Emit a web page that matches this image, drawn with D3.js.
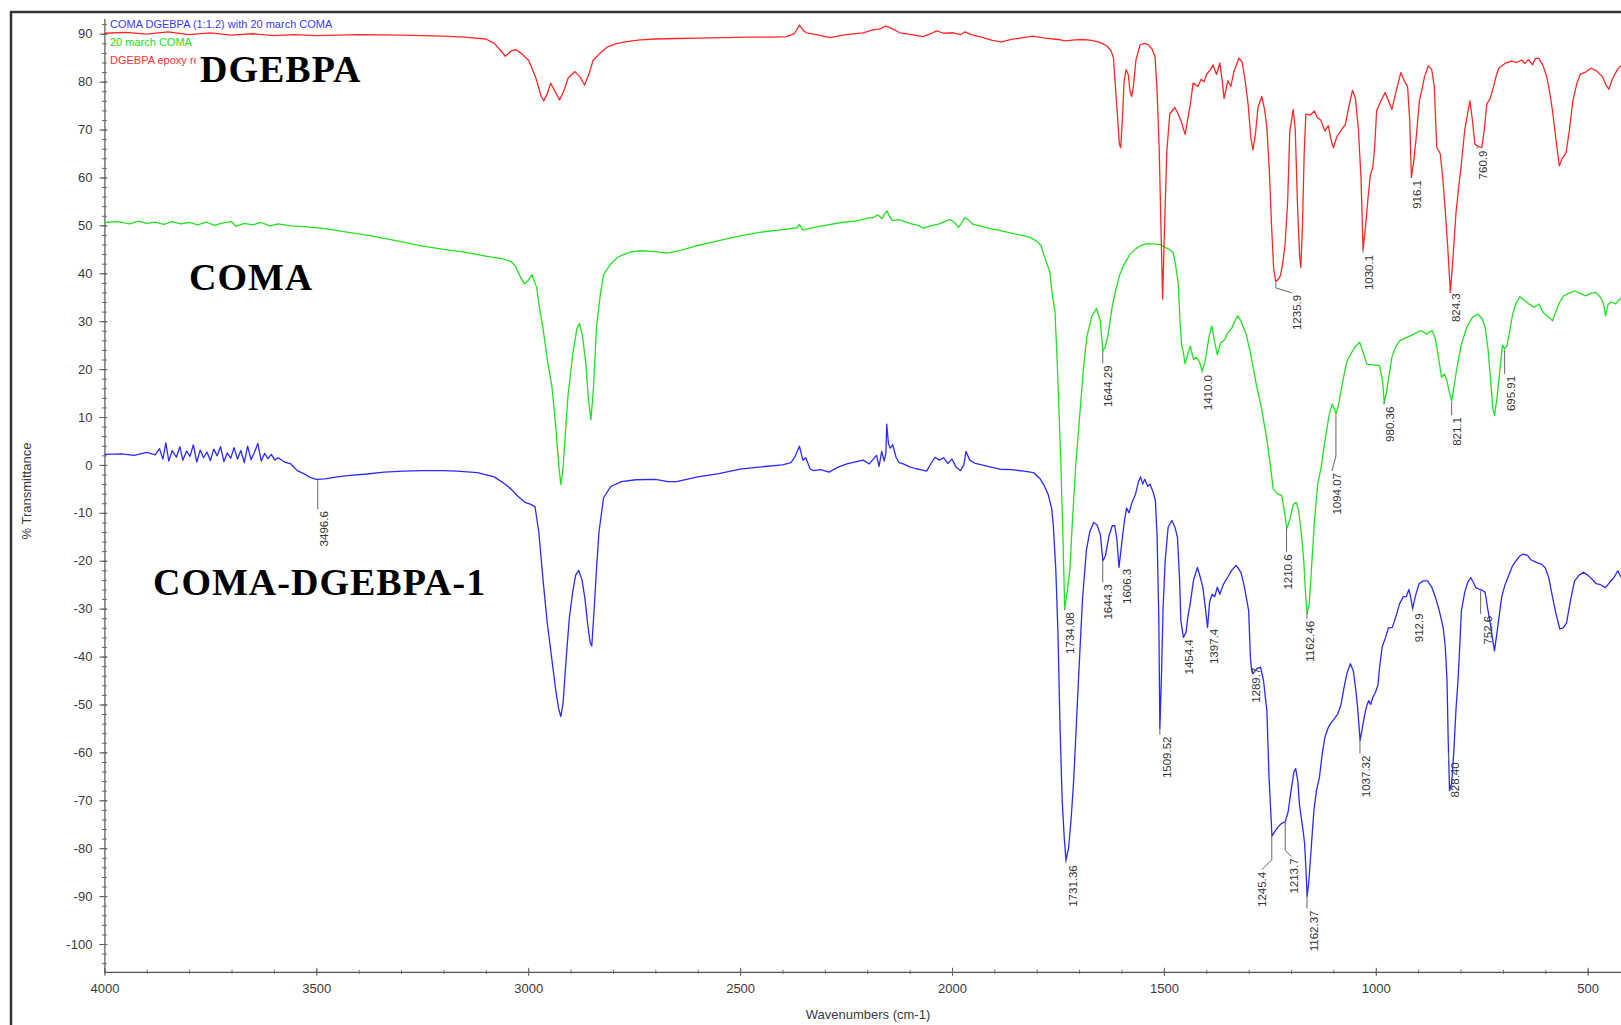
<!DOCTYPE html>
<html><head><meta charset="utf-8">
<script src="https://cdn.jsdelivr.net/npm/d3@7"></script>
<style>
html,body{margin:0;padding:0;background:#fff;overflow:hidden;}
svg{display:block;}
</style></head><body>
<svg id="chart" width="1621" height="1025"></svg>
<script>
// ---------------- DATA ----------------
const xTickValues = [4000, 3500, 3000, 2500, 2000, 1500, 1000, 500];
const yTickValues = [90, 80, 70, 60, 50, 40, 30, 20, 10, 0, -10, -20, -30, -40, -50, -60, -70, -80, -90, -100];
const legendNames = ["COMA DGEBPA (1:1.2) with 20 march COMA", "20 march COMA", "DGEBPA epoxy resin"];
const sampleLabels = ["DGEBPA", "COMA", "COMA-DGEBPA-1"];

// DGEBPA spectrum [wavenumber, %T]
const dgebpaSpectrum = [
[4000,90.1],[3950,90.3],[3900,89.9],[3850,90.4],[3800,89.8],[3750,90.2],[3700,89.7],[3650,90.0],[3600,89.6],[3550,89.8],[3500,89.6],[3450,89.7],[3400,89.8],[3300,89.7],[3200,89.5],[3150,89.3],[3100,88.9],[3080,88.0],[3065,86.5],[3054,85.3],[3040,86.4],[3029,86.7],[3015,85.8],[2999,84.4],[2985,81.5],[2978,79.7],[2970,77.0],[2963,76.0],[2955,77.5],[2947,79.7],[2937,78.0],[2926,76.2],[2916,78.0],[2906,80.7],[2890,82.1],[2878,81.0],[2867,79.3],[2857,81.5],[2847,84.4],[2830,86.0],[2814,87.2],[2790,88.0],[2763,88.4],[2736,88.7],[2700,88.9],[2650,89.0],[2600,89.1],[2540,89.2],[2480,89.3],[2420,89.3],[2390,89.4],[2372,90.0],[2360,91.8],[2350,90.6],[2343,90.2],[2320,89.8],[2288,89.2],[2250,89.8],[2210,90.2],[2186,90.8],[2170,91.0],[2156,91.6],[2140,91.0],[2123,90.2],[2095,89.8],[2068,89.4],[2050,90.0],[2036,90.6],[2020,90.1],[1997,90.2],[1980,89.8],[1969,90.4],[1955,89.8],[1930,89.3],[1905,88.6],[1883,88.3],[1860,88.8],[1832,89.2],[1809,89.5],[1780,89.1],[1750,88.8],[1733,88.5],[1710,88.7],[1691,88.8],[1670,88.6],[1651,88.2],[1635,87.5],[1625,86.5],[1619,85.0],[1612,76.0],[1605,67.0],[1602,66.2],[1598,72.0],[1594,80.0],[1589,82.5],[1584,81.5],[1580,78.0],[1576,76.9],[1572,79.0],[1566,84.5],[1556,87.7],[1545,88.0],[1537,87.7],[1528,86.8],[1521,85.3],[1516,78.0],[1511,65.7],[1507,50.0],[1503,34.6],[1499,48.0],[1493,65.7],[1486,73.3],[1474,74.6],[1465,73.0],[1458,71.4],[1450,69.0],[1444,72.0],[1438,75.1],[1431,79.7],[1420,79.0],[1412,80.5],[1405,80.0],[1399,81.6],[1390,82.5],[1384,83.5],[1376,81.5],[1368,83.9],[1362,80.0],[1358,76.5],[1353,78.5],[1349,80.2],[1342,79.0],[1335,82.0],[1323,84.9],[1315,84.0],[1308,80.0],[1301,75.1],[1295,68.5],[1290,65.7],[1284,69.0],[1278,74.6],[1269,76.9],[1262,74.0],[1257,70.4],[1251,61.0],[1246,50.0],[1241,41.0],[1236,38.2],[1230,38.8],[1225,39.5],[1219,42.5],[1214,46.0],[1208,55.0],[1203,69.5],[1195,74.2],[1190,70.0],[1185,55.0],[1180,44.0],[1177,41.2],[1173,50.0],[1169,65.0],[1165,73.2],[1155,73.0],[1145,73.9],[1138,72.5],[1130,72.0],[1120,69.7],[1112,70.8],[1106,68.0],[1100,66.2],[1092,68.5],[1080,70.1],[1072,71.0],[1063,75.0],[1055,78.2],[1048,76.5],[1041,70.0],[1035,60.0],[1030,45.0],[1024,50.0],[1018,56.0],[1013,60.5],[1007,62.1],[1003,66.0],[998,73.9],[988,76.0],[978,77.7],[970,76.0],[962,74.2],[952,78.0],[941,81.9],[932,80.0],[925,79.0],[920,72.0],[916,60.0],[911,63.0],[905,68.0],[897,76.0],[885,81.0],[876,83.3],[868,82.5],[862,79.0],[856,66.2],[848,65.0],[842,60.0],[836,53.0],[830,45.0],[824,36.0],[818,43.0],[811,52.4],[805,57.5],[799,62.1],[790,70.0],[778,76.0],[772,72.0],[766,66.9],[758,66.5],[750,66.2],[744,70.0],[738,75.3],[730,76.5],[722,79.0],[715,81.5],[709,82.9],[695,83.8],[681,84.3],[668,84.0],[656,84.5],[648,83.8],[640,84.6],[630,83.5],[624,84.8],[616,84.9],[606,83.5],[596,80.8],[590,78.0],[583,73.9],[575,68.0],[567,62.4],[560,64.0],[551,65.2],[543,70.0],[535,76.0],[526,79.5],[518,81.5],[505,82.0],[492,82.8],[478,82.2],[465,81.0],[458,79.5],[450,78.4],[442,80.5],[430,82.5],[422,83.3]
];

// COMA spectrum [wavenumber, %T]
const comaSpectrum = [
[4000,50.6],[3970,50.8],[3940,50.3],[3920,50.9],[3900,50.4],[3880,50.7],[3860,50.2],[3840,50.8],[3820,50.3],[3800,50.6],[3780,50.1],[3760,50.7],[3740,50.0],[3720,50.5],[3700,50.8],[3690,49.8],[3670,50.4],[3650,50.1],[3630,50.6],[3610,49.9],[3590,50.3],[3560,49.9],[3520,49.7],[3480,49.3],[3420,48.5],[3370,47.8],[3300,46.6],[3252,45.7],[3200,45.0],[3150,44.4],[3100,43.6],[3060,43.0],[3041,42.5],[3030,41.5],[3020,39.5],[3009,37.8],[3000,38.5],[2991,39.7],[2980,37.0],[2972,32.0],[2965,28.5],[2955,22.0],[2944,16.4],[2935,8.0],[2928,0.0],[2923,-4.1],[2918,-1.0],[2912,7.0],[2906,14.5],[2895,23.0],[2885,28.5],[2879,29.5],[2872,27.0],[2864,21.1],[2858,14.0],[2852,9.4],[2846,16.0],[2839,28.5],[2830,35.5],[2822,39.7],[2805,42.0],[2788,43.4],[2760,44.4],[2736,44.7],[2700,44.5],[2673,44.2],[2640,44.8],[2600,45.8],[2550,46.8],[2500,47.8],[2450,48.6],[2400,49.1],[2366,49.5],[2360,50.2],[2352,49.0],[2340,49.3],[2300,50.0],[2260,50.6],[2220,51.0],[2200,51.5],[2186,51.6],[2175,52.2],[2165,51.4],[2160,52.3],[2153,53.0],[2147,51.8],[2140,51.0],[2125,51.2],[2100,50.4],[2080,50.0],[2068,49.4],[2050,49.9],[2030,50.3],[2015,50.9],[2005,51.2],[1995,50.7],[1985,49.6],[1978,50.4],[1970,51.6],[1962,51.2],[1950,50.2],[1930,49.8],[1910,49.3],[1890,49.0],[1860,48.4],[1830,47.8],[1816,47.5],[1800,46.7],[1790,45.8],[1785,44.3],[1778,42.5],[1769,40.2],[1764,36.0],[1757,32.0],[1752,22.0],[1747,10.0],[1743,0.0],[1738,-16.0],[1734,-30.0],[1729,-27.0],[1722,-22.0],[1716,-12.0],[1708,0.0],[1698,11.0],[1690,20.0],[1682,26.7],[1670,31.0],[1659,32.7],[1650,30.0],[1644,23.8],[1639,24.5],[1632,27.0],[1622,33.0],[1615,36.0],[1605,39.5],[1596,41.5],[1580,44.0],[1565,45.2],[1556,45.7],[1540,46.2],[1520,46.1],[1509,46.0],[1495,45.3],[1484,44.8],[1478,44.3],[1472,41.5],[1466,37.8],[1462,30.0],[1458,24.9],[1454,23.5],[1450,21.1],[1444,23.0],[1438,24.8],[1430,22.0],[1424,22.5],[1416,21.5],[1410,19.6],[1403,21.5],[1393,27.0],[1387,29.0],[1381,26.0],[1374,23.0],[1366,25.5],[1356,26.2],[1350,27.5],[1340,28.5],[1330,30.5],[1326,31.1],[1318,30.0],[1305,27.0],[1295,23.0],[1281,16.4],[1270,12.0],[1257,5.3],[1249,0.0],[1242,-5.0],[1232,-6.0],[1222,-6.4],[1216,-9.5],[1210,-13.2],[1203,-11.5],[1195,-8.3],[1188,-7.8],[1182,-9.5],[1176,-14.0],[1170,-20.0],[1166,-26.5],[1162,-31.0],[1157,-29.0],[1152,-22.0],[1145,-12.0],[1137,-4.0],[1129,-0.5],[1120,5.0],[1110,10.5],[1103,12.7],[1099,12.0],[1094,10.6],[1088,12.5],[1080,16.5],[1070,21.0],[1064,22.4],[1050,24.5],[1038,25.6],[1030,23.5],[1021,21.0],[1005,20.9],[991,20.7],[984,17.5],[980,13.0],[975,15.0],[970,18.0],[962,22.5],[952,24.8],[944,25.9],[930,26.5],[920,26.9],[910,27.3],[900,27.8],[892,28.0],[880,27.3],[873,27.8],[867,28.0],[860,26.5],[852,22.5],[845,18.3],[838,19.0],[832,17.5],[826,15.0],[821,13.3],[816,16.0],[810,19.5],[805,22.0],[798,25.2],[785,28.8],[772,30.8],[759,31.5],[749,30.5],[742,28.7],[735,24.0],[729,17.6],[724,12.0],[720,10.3],[714,14.0],[707,20.0],[701,25.0],[696,24.2],[690,25.0],[684,28.0],[677,31.5],[668,34.0],[660,35.1],[648,34.2],[637,33.5],[626,32.9],[615,33.6],[605,31.8],[594,31.0],[583,30.1],[575,32.0],[566,34.0],[557,35.3],[545,35.8],[531,36.3],[518,35.8],[505,35.3],[493,35.8],[481,36.0],[470,35.0],[462,33.5],[458,31.1],[452,33.5],[445,34.0],[435,33.6],[421,34.9]
];

// COMA-DGEBPA-1 spectrum [wavenumber, %T]
const blendSpectrum = [
[4000,2.2],[3960,2.3],[3930,2.0],[3900,2.6],[3880,2.1],[3870,3.4],[3862,1.2],[3855,4.6],[3848,0.8],[3840,3.0],[3830,1.6],[3822,3.8],[3815,1.0],[3806,2.9],[3798,1.8],[3790,4.2],[3782,0.6],[3774,3.1],[3766,1.5],[3758,2.7],[3750,0.9],[3742,3.3],[3734,1.9],[3726,3.8],[3718,0.7],[3710,2.5],[3702,1.4],[3694,3.6],[3686,1.2],[3678,3.0],[3670,0.5],[3662,3.9],[3654,1.1],[3646,2.6],[3638,4.5],[3630,0.8],[3622,2.4],[3614,1.3],[3606,2.2],[3598,1.0],[3590,1.5],[3575,0.6],[3560,0.2],[3545,-1.2],[3530,-1.8],[3515,-2.6],[3500,-3.0],[3480,-2.9],[3450,-2.5],[3420,-2.2],[3380,-1.9],[3340,-1.5],[3294,-1.3],[3250,-1.2],[3200,-1.2],[3168,-1.3],[3120,-1.6],[3080,-2.5],[3055,-4.0],[3041,-5.0],[3025,-6.5],[3008,-7.8],[2995,-8.2],[2984,-8.7],[2975,-14.0],[2965,-24.0],[2955,-33.0],[2945,-40.0],[2935,-47.0],[2928,-51.0],[2923,-52.5],[2918,-50.0],[2910,-40.0],[2903,-32.0],[2895,-26.5],[2888,-23.0],[2881,-22.0],[2873,-24.0],[2866,-28.0],[2860,-33.0],[2854,-37.0],[2850,-37.8],[2845,-31.0],[2839,-22.0],[2833,-14.0],[2822,-6.8],[2805,-4.5],[2780,-3.5],[2746,-3.1],[2700,-3.0],[2670,-3.5],[2650,-3.5],[2600,-2.5],[2550,-1.8],[2500,-0.9],[2450,-0.4],[2400,0.0],[2380,0.5],[2370,1.8],[2360,3.9],[2352,1.0],[2345,1.5],[2335,-0.8],[2327,-1.2],[2310,-1.0],[2290,-1.5],[2270,-0.5],[2248,0.2],[2230,0.6],[2210,1.0],[2195,0.2],[2186,1.2],[2178,2.0],[2172,-0.3],[2166,2.8],[2160,0.8],[2156,2.5],[2154,8.5],[2150,4.5],[2146,3.5],[2140,4.2],[2132,1.6],[2125,0.5],[2115,0.2],[2100,-0.4],[2085,-0.8],[2075,-1.0],[2060,-1.3],[2050,0.2],[2040,1.6],[2030,1.0],[2020,1.5],[2010,0.3],[2000,1.2],[1990,-0.5],[1980,-1.2],[1972,0.0],[1967,2.8],[1958,1.0],[1945,0.3],[1930,0.0],[1910,-0.4],[1887,-0.9],[1860,-1.0],[1830,-1.3],[1808,-1.6],[1792,-2.9],[1783,-4.2],[1773,-6.2],[1765,-9.0],[1761,-12.5],[1755,-22.0],[1750,-35.0],[1745,-55.0],[1740,-70.0],[1735,-78.0],[1731,-82.5],[1725,-80.0],[1719,-74.0],[1713,-66.0],[1707,-55.0],[1700,-42.0],[1692,-28.0],[1683,-17.9],[1675,-14.0],[1666,-12.0],[1658,-12.5],[1650,-14.5],[1644,-20.0],[1638,-19.0],[1630,-15.0],[1622,-12.7],[1616,-12.7],[1611,-15.5],[1606,-21.4],[1599,-16.0],[1593,-11.6],[1588,-9.0],[1582,-10.0],[1576,-8.0],[1567,-6.1],[1560,-3.5],[1555,-2.5],[1550,-4.0],[1545,-3.0],[1538,-4.5],[1533,-4.0],[1526,-5.5],[1520,-7.5],[1516,-15.0],[1512,-32.0],[1509.5,-55.0],[1506,-45.0],[1502,-30.0],[1497,-20.0],[1490,-13.0],[1481,-11.6],[1474,-13.0],[1468,-15.1],[1463,-24.0],[1460,-32.5],[1454,-36.0],[1448,-35.0],[1443,-31.5],[1438,-29.0],[1430,-24.0],[1421,-21.4],[1414,-23.5],[1408,-25.6],[1402,-30.0],[1397,-33.9],[1392,-28.5],[1386,-27.0],[1380,-27.5],[1374,-25.5],[1368,-27.0],[1360,-25.0],[1350,-23.5],[1340,-22.0],[1330,-21.0],[1326,-21.4],[1318,-22.5],[1310,-25.5],[1300,-30.4],[1296,-40.0],[1293,-42.8],[1290,-43.6],[1285,-43.0],[1280,-42.5],[1272,-42.2],[1265,-45.0],[1257,-51.3],[1252,-65.0],[1245,-77.5],[1238,-76.5],[1230,-75.5],[1222,-74.8],[1214,-74.5],[1207,-72.5],[1200,-68.0],[1193,-64.0],[1189,-63.4],[1184,-66.0],[1180,-71.0],[1176,-73.5],[1172,-76.0],[1168,-79.0],[1165,-84.0],[1162,-90.0],[1158,-87.0],[1154,-82.0],[1150,-77.0],[1146,-72.1],[1140,-68.0],[1133,-65.2],[1126,-60.0],[1120,-56.8],[1113,-55.0],[1107,-54.0],[1100,-53.2],[1090,-52.0],[1082,-50.0],[1075,-46.5],[1068,-43.5],[1060,-41.5],[1053,-43.0],[1048,-46.4],[1043,-50.5],[1037,-57.5],[1031,-54.5],[1026,-52.0],[1022,-50.5],[1017,-49.2],[1012,-50.0],[1007,-48.5],[1001,-47.5],[995,-46.0],[991,-42.2],[985,-38.0],[977,-36.0],[970,-34.0],[961,-33.9],[952,-31.5],[944,-29.0],[935,-27.5],[928,-27.5],[922,-26.0],[918,-27.5],[913,-30.0],[907,-27.5],[898,-24.8],[888,-24.2],[878,-24.2],[868,-25.5],[858,-28.0],[850,-30.5],[841,-33.9],[836,-38.0],[832,-45.0],[829,-58.0],[826,-68.0],[821,-66.5],[816,-60.0],[811,-51.3],[806,-45.0],[802,-38.0],[798,-30.4],[790,-26.5],[783,-24.5],[776,-23.5],[770,-24.5],[764,-25.6],[755,-26.0],[748,-26.2],[742,-26.6],[736,-30.0],[730,-33.0],[725,-36.0],[720,-38.8],[714,-35.0],[708,-31.0],[703,-27.6],[695,-25.0],[686,-23.0],[677,-21.0],[669,-20.0],[660,-19.0],[652,-18.6],[642,-18.9],[634,-19.8],[625,-20.2],[617,-20.5],[609,-20.7],[600,-21.5],[592,-23.5],[583,-27.6],[575,-31.0],[566,-34.2],[558,-34.0],[550,-33.0],[540,-28.0],[531,-24.2],[520,-23.0],[510,-22.4],[500,-23.0],[490,-23.8],[480,-24.8],[470,-25.0],[458,-25.6],[448,-24.5],[438,-23.5],[429,-22.1],[421,-23.5]
];

// peak labels (text = wavenumber) per spectrum
const dgebpaPeaks = ["1235.9", "1030.1", "916.1", "824.3", "760.9"];
const comaPeaks = ["1734.08", "1644.29", "1410.0", "1210.6", "1162.46", "1094.07", "980.36", "821.1", "695.91"];
const blendPeaks = ["3496.6", "1731.36", "1644.3", "1606.3", "1509.52", "1454.4", "1397.4", "1289.7", "1245.4", "1213.7", "1162.37", "1037.32", "912.9", "828.40", "752.6"];

// ---------------- LAYOUT / STYLE ----------------
// leader layout per label: [drop, elbowDx, elbowDy, textDx]
const leaderLayout = {
  "1235.9": [6, 16, 5, 5], "1030.1": [5, 0, 0, 6], "916.1": [2, 0, 0, 6], "824.3": [1, 0, 0, 6], "760.9": [3, 0, 0, 6],
  "1734.08": [3, 0, 0, 5], "1644.29": [14, 0, 0, 5], "1410.0": [2, 0, 0, 6], "1210.6": [26, 0, 0, 1], "1162.46": [8, 0, 0, 3],
  "1094.07": [42, -4, 15, 5], "980.36": [4, 0, 0, 6], "821.1": [14, 0, 0, 5], "695.91": [25, 0, 0, 6],
  "3496.6": [30, 0, 0, 6], "1731.36": [5, 0, 0, 7], "1644.3": [23, 0, 0, 5], "1606.3": [1, 0, 0, 8], "1509.52": [7, 0, 0, 7],
  "1454.4": [1, 0, 0, 6], "1397.4": [1, 0, 0, 7], "1289.7": [-8, 0, 0, 3], "1245.4": [27, -10, 10, 0], "1213.7": [29, 6, 6, 3],
  "1162.37": [16, 0, 0, 7], "1037.32": [15, 0, 0, 6], "912.9": [3, 0, 0, 6], "828.40": [8, 0, 0, 6], "752.6": [24, 0, 0, 7]
};

const svg = d3.select("#chart");
const FONT = "'Liberation Sans', Arial, sans-serif";

const x = d3.scaleLinear().domain([4000, 420]).range([104.4, 1621.6]);
const y = d3.scaleLinear().domain([-105.8, 93.2]).range([971.8, 18.4]);

// frame
svg.append("rect").attr("x", 11).attr("y", 12).attr("width", 1700).attr("height", 1100)
  .attr("fill", "#fff").attr("stroke", "#333").attr("stroke-width", 2.5);

const defs = svg.append("defs");
defs.append("clipPath").attr("id", "plotclip")
  .append("rect").attr("x", 104.4).attr("y", 13.5).attr("width", 1520).attr("height", 958.5);
// the red legend entry is partly hidden behind the DGEBPA sample label in the original
defs.append("clipPath").attr("id", "legendclip")
  .append("rect").attr("x", 100).attr("y", 13.5).attr("width", 96).attr("height", 60);

// axes
const yAxis = svg.append("g").attr("transform", "translate(104.4,0)")
  .call(d3.axisLeft(y).tickValues(yTickValues).tickSize(5).tickSizeOuter(0).tickPadding(7).tickFormat(d => String(d)));
yAxis.selectAll(".tick line").attr("x1", 3).attr("stroke", "#555");
yAxis.select(".domain").attr("stroke", "#555").attr("stroke-width", 1.2);
yAxis.selectAll("text").attr("font-family", FONT).attr("font-size", 13).attr("fill", "#3a3a3a");

const yMinor = svg.append("g").attr("transform", "translate(104.4,0)")
  .call(d3.axisLeft(y).tickValues(d3.range(-104, 93, 2)).tickSize(2.5).tickSizeOuter(0).tickFormat(""));
yMinor.select(".domain").remove();
yMinor.selectAll(".tick line").attr("x1", 2.5).attr("stroke", "#666");

const xAxis = svg.append("g").attr("transform", "translate(0,971.8)")
  .call(d3.axisBottom(x).tickValues(xTickValues).tickSize(4).tickSizeOuter(0).tickPadding(8).tickFormat(d => String(d)));
xAxis.selectAll(".tick line").attr("y1", -4).attr("stroke", "#555");
xAxis.select(".domain").attr("stroke", "#555").attr("stroke-width", 1.2);
xAxis.selectAll("text").attr("font-family", FONT).attr("font-size", 13).attr("fill", "#3a3a3a");

const xMinor = svg.append("g").attr("transform", "translate(0,971.8)")
  .call(d3.axisBottom(x).tickValues(d3.range(4000, 419, -100)).tickSize(2).tickSizeOuter(0).tickFormat(""));
xMinor.select(".domain").remove();
xMinor.selectAll(".tick line").attr("y1", -2).attr("stroke", "#666");

svg.append("text").attr("x", 868).attr("y", 1019).attr("text-anchor", "middle")
  .attr("font-family", FONT).attr("font-size", 13).attr("fill", "#3a3a3a").text("Wavenumbers (cm-1)");
svg.append("text").attr("transform", "translate(31,491) rotate(-90)").attr("text-anchor", "middle")
  .attr("font-family", FONT).attr("font-size", 13).attr("fill", "#3a3a3a").text("% Transmittance");

// spectra
const line = d3.line().x(d => x(d[0])).y(d => y(d[1]));
const seriesList = [
  { data: blendSpectrum, color: "#2a2aff", peaks: blendPeaks },
  { data: comaSpectrum, color: "#22e022", peaks: comaPeaks },
  { data: dgebpaSpectrum, color: "#ff2626", peaks: dgebpaPeaks }
];
const plot = svg.append("g").attr("clip-path", "url(#plotclip)");
seriesList.forEach(s => {
  plot.append("path").datum(s.data).attr("d", line)
    .attr("fill", "none").attr("stroke", s.color).attr("stroke-width", 1.3).attr("stroke-linejoin", "round");
});

// interpolate %T at a wavenumber
function valueAt(data, wn) {
  for (let i = 0; i < data.length - 1; i++) {
    const a = data[i], b = data[i + 1];
    if (wn <= a[0] && wn >= b[0]) {
      const t = (a[0] - wn) / (a[0] - b[0]);
      return a[1] + t * (b[1] - a[1]);
    }
  }
  return data[data.length - 1][1];
}

// peak labels
const ann = svg.append("g");
seriesList.forEach(s => {
  s.peaks.forEach(txt => {
    const wn = +txt;
    const ax = x(wn), ay = y(valueAt(s.data, wn));
    const [drop, edx, edy, tdx] = leaderLayout[txt];
    if (drop > 0) {
      const pts = [[ax, ay + 1], [ax, ay + drop]];
      if (edx !== 0 || edy !== 0) pts.push([ax + edx, ay + drop + edy]);
      ann.append("path").attr("d", d3.line()(pts)).attr("fill", "none")
        .attr("stroke", "#666").attr("stroke-width", 1);
    }
    const top = ay + drop + edy + 2;
    ann.append("text")
      .attr("transform", `translate(${ax + edx + tdx},${top}) rotate(-90)`)
      .attr("text-anchor", "end").attr("dy", "0.35em")
      .attr("font-family", FONT).attr("font-size", 11.5).attr("fill", "#333")
      .text(txt);
  });
});

// legend (top-left, inside plot)
const legendColors = ["#3a3aff", "#22dd22", "#ff3030"];
legendNames.forEach((n, i) => {
  const t = svg.append("text").attr("x", 110).attr("y", 27.5 + i * 18)
    .attr("font-family", FONT).attr("font-size", 11).attr("fill", legendColors[i]).text(n);
  if (i === 2) t.attr("clip-path", "url(#legendclip)");
});

// sample labels
const labelPos = [[200, 82], [189, 289.5], [153, 595]];
sampleLabels.forEach((t, i) => {
  svg.append("text").attr("x", labelPos[i][0]).attr("y", labelPos[i][1])
    .attr("font-family", "'Liberation Serif', 'Times New Roman', serif").attr("font-weight", "bold")
    .attr("font-size", 38).attr("letter-spacing", 1).attr("fill", "#000").text(t);
});
</script>
</body></html>
